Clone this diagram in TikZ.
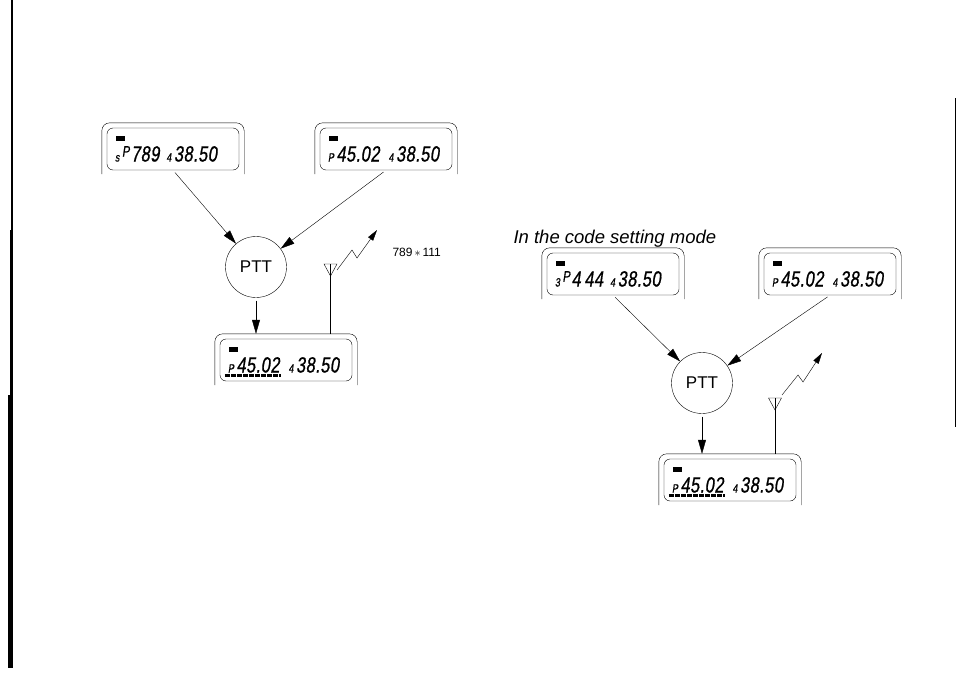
\documentclass[tikz,border=0pt]{standalone}
\usepackage{fontspec}
\setmainfont{Liberation Sans}
\newfontfamily\lcdfont[FakeStretch=0.75,FakeSlant=0.15,FakeBold=0.8,LetterSpace=2]{Liberation Sans}
\usetikzlibrary{calc,arrows.meta}

\newcommand\lcdsmall[1]{{\fontsize{12}{12}\selectfont #1}\hspace{2.5pt}}
\newcommand\lcdmid[1]{\raisebox{5pt}{\fontsize{15}{15}\selectfont #1}\hspace{1.5pt}}

\begin{document}
\begin{tikzpicture}[x=1pt,y=-1pt,
        lcd/.style={
        draw=black, rounded corners=6pt,
        minimum width=132, minimum height=42,
        text width=116, align=left, inner xsep=8pt,
        text height=25pt, text depth=0pt,
        font=\lcdfont\fontsize{22}{22}\selectfont},
        ptt/.style={
        circle, draw=black, minimum size=61,
        inner sep=0pt, font=\fontsize{17}{17}\selectfont},
        frame/.style={draw=black, rounded corners=8pt},
        arr/.style={-{Triangle[length=14pt,width=8pt]}, shorten <=3pt},
        zig/.style={-{Triangle[length=11pt,width=6pt]}},
        ]

        \useasboundingbox (0,0) rectangle (956,677);

        % page edges
        \draw[line width=1.5pt] (12,0) -- (12,235);
        \draw[line width=3pt] (11.5,230) -- (11.5,395);
        \draw[line width=5pt] (10.5,395) -- (10.5,668);
        \draw[line width=1.2pt] (955.3,98) -- (955.3,427);

        % left diagram
        \node (b1) [lcd] at (173,149) {\mbox{\lcdsmall{s}\lcdmid{P}789\hspace{7pt}\lcdsmall{4}38.50}};
        \node (b2) [lcd] at (386,149) {\mbox{\lcdsmall{P}45.02\hspace{9pt}\lcdsmall{4}38.50}};
        \node (p1) [ptt] at (256,267) {PTT};
        \node (b3) [lcd] at (286,360) {\mbox{\lcdsmall{P}45.02\hspace{9pt}\lcdsmall{4}38.50}};

        \foreach \b in {b1,b2,b3}{
            \draw[frame] ($(\b.south west)+(-5,4)$) |- ($(\b.north east)+(5,-5)$) -- ($(\b.south east)+(5,4)$);
            \fill ($(\b.north west)+(9,8)$) rectangle +(9,5);
        }
        \draw[line width=3pt, dash pattern=on 5pt off 1pt] ($(b3.south west)+(5,-6)$) -- +(56,0);

        \draw[arr] (b1.south) -- (p1);
        \draw[arr] (b2.south) -- (p1);
        \draw[arr] (p1.south) -- ($(p1.south |- b3.north)+(0,-5)$);

        \coordinate (a1) at (330.5,264);
        \draw (a1) ++(-6.5,0) -- ++(13,0) -- ++(-6.5,12) -- cycle;
        \draw (a1) -- ($(a1 |- b3.north)+(0,-5)$);
        \coordinate (z1) at (337,270);
        \coordinate (t1) at (377,230);
        \draw[zig] (z1) -- (352,250) -- (357,258) -- (t1);
        \node (c1) [anchor=west, font=\fontsize{12}{12}\selectfont] at (389,252) {789\,$*$\,111};

        % right diagram
        \node (title) [anchor=base west, font=\itshape\fontsize{18.5}{18.5}\selectfont] at (510,243) {In the code setting mode};
        \node (b4) [lcd] at (613,274) {\mbox{\lcdsmall{3}\lcdmid{P}4\,44\hspace{7pt}\lcdsmall{4}38.50}};
        \node (b5) [lcd] at (830,274) {\mbox{\lcdsmall{P}45.02\hspace{9pt}\lcdsmall{4}38.50}};
        \node (p2) [ptt] at (702,383) {PTT};
        \node (b6) [lcd] at (730,480) {\mbox{\lcdsmall{P}45.02\hspace{9pt}\lcdsmall{4}38.50}};

        \foreach \b in {b4,b5,b6}{
            \draw[frame] ($(\b.south west)+(-5,4)$) |- ($(\b.north east)+(5,-5)$) -- ($(\b.south east)+(5,4)$);
            \fill ($(\b.north west)+(9,8)$) rectangle +(9,5);
        }
        \draw[line width=3pt, dash pattern=on 5pt off 1pt] ($(b6.south west)+(5,-6)$) -- +(56,0);

        \draw[arr] (b4.south) -- (p2);
        \draw[arr] (b5.south) -- (p2);
        \draw[arr] (p2.south) -- ($(p2.south |- b6.north)+(0,-5)$);

        \coordinate (a2) at (775,398);
        \draw (a2) ++(-6.5,0) -- ++(13,0) -- ++(-6.5,12) -- cycle;
        \draw (a2) -- ($(a2 |- b6.north)+(0,-5)$);
        \coordinate (z2) at (782,395);
        \coordinate (t2) at (822,353);
        \draw[zig] (z2) -- (798,375) -- (803,382) -- (t2);
    \end{tikzpicture}
\end{document}
